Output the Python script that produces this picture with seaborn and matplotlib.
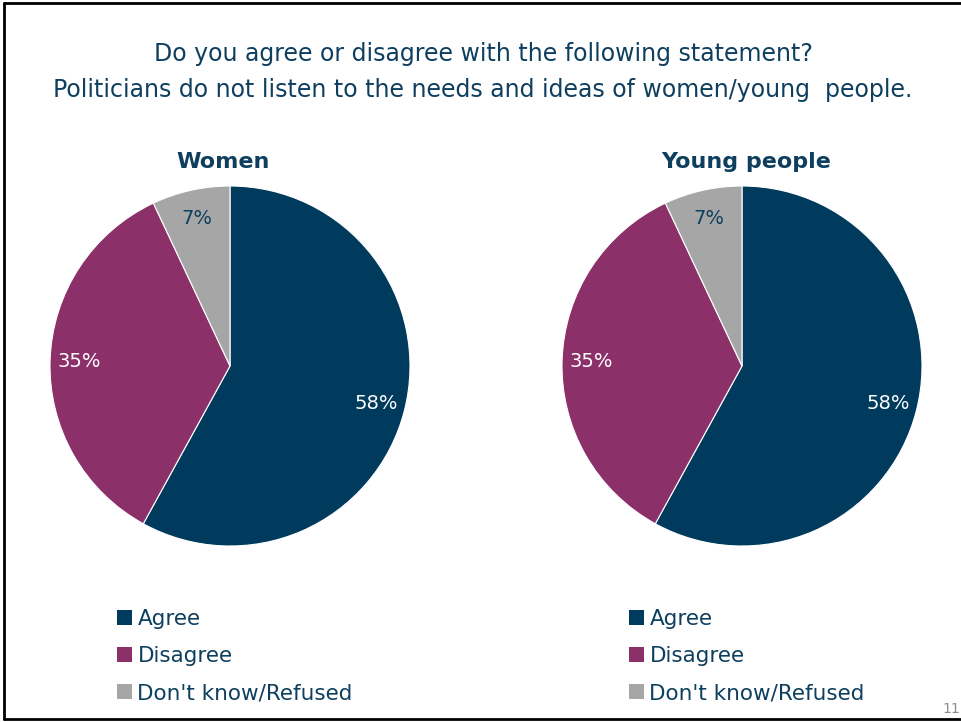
import matplotlib
matplotlib.use("Agg")
import matplotlib.pyplot as plt
import seaborn as sns
from matplotlib.lines import Line2D
from matplotlib.patches import Patch

categories = ["Agree", "Disagree", "Don't know/Refused"]
women_values = [58, 35, 7]
young_values = [58, 35, 7]
panel_titles = ["Women", "Young people"]
title_text = ("Do you agree or disagree with the following statement?\n"
              "Politicians do not listen to the needs and ideas of women/young  people.")

sns.set_theme(style="white")
plt.rcParams['font.family'] = ['DejaVu Sans']

colors = sns.color_palette(["#003A5D", "#8C306A", "#A6A6A6"])
text_color = "#0F3F5F"

W, H = 961, 722
fig = plt.figure(figsize=(W / 100, H / 100), dpi=100)

def px_axes(cx, cy, r):
    return fig.add_axes([(cx - r) / W, (H - (cy + r)) / H, 2 * r / W, 2 * r / H])

centers = [(230, 366), (742, 366)]
title_x = [223, 746]
R = 180
for (cx, cy), tx, vals, ttl in zip(centers, title_x, [women_values, young_values], panel_titles):
    ax = px_axes(cx, cy, R)
    wedges, texts, autotexts = ax.pie(
        vals, colors=colors, startangle=90, counterclock=False,
        autopct=lambda p: f"{round(p):.0f}%", pctdistance=0.84,
        wedgeprops=dict(linewidth=0.8, edgecolor="white"),
        textprops=dict(fontsize=14))
    for t, c in zip(autotexts, ["white", "white", text_color]):
        t.set_color(c)
    ax.set_xlim(-1, 1)
    ax.set_ylim(-1, 1)
    ax.set_aspect("equal")
    fig.text(tx / W, 1 - 162 / H, ttl, ha="center", va="center",
             fontsize=16, fontweight="bold", color=text_color)

fig.text(483 / W, 1 - 72 / H, title_text, ha="center", va="center",
         fontsize=17, color=text_color, linespacing=1.6)

handles = [Patch(facecolor=c, edgecolor="none") for c in colors]
for x0 in [117, 629]:
    leg = fig.legend(handles, categories, loc="upper left",
                     bbox_to_anchor=(x0 / W, 1 - 609 / H), frameon=False,
                     fontsize=15.5, handlelength=0.7, handleheight=0.7,
                     handletextpad=0.25, labelspacing=0.8, borderpad=0,
                     borderaxespad=0)
    for t in leg.get_texts():
        t.set_color(text_color)

fig.text(951 / W, 1 - 709 / H, "11", ha="center", va="center",
         fontsize=10, color="#8C8C8C")

# slide frame
lw = 2
fig.add_artist(Line2D([4 / W, 4 / W], [1 - 719 / H, 1 - 3 / H], color="black", lw=lw))
fig.add_artist(Line2D([4 / W, 1], [1 - 3 / H, 1 - 3 / H], color="black", lw=lw))
fig.add_artist(Line2D([4 / W, 1], [1 - 719 / H, 1 - 719 / H], color="black", lw=lw))

fig.savefig("out.png", dpi=100, facecolor="white")
